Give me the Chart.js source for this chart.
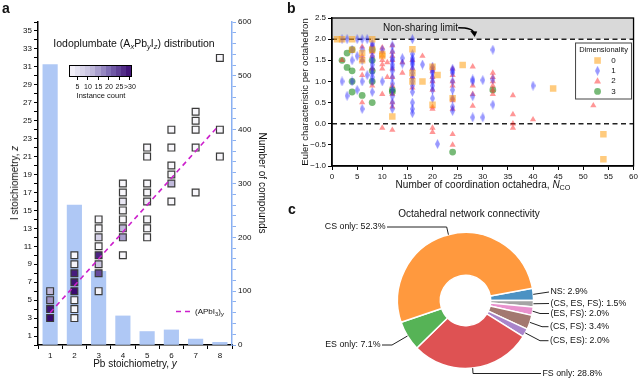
<!DOCTYPE html>
<html>
<head>
<meta charset="utf-8">
<script src="https://cdn.jsdelivr.net/npm/chart.js@4.4.1/dist/chart.umd.min.js"></script>
<style>
body { margin: 0; background: #fff; }
#page { position: relative; width: 640px; height: 379px; overflow: hidden; font-family: "Liberation Sans", Arial, sans-serif; color: #111; }
#page canvas { position: absolute; }
.txt { position: absolute; white-space: nowrap; transform: translate(-50%, -50%); font-size: 10px; line-height: 1; }
.lft { position: absolute; white-space: nowrap; transform: translateY(-50%); line-height: 1; }
.rotl { transform: translate(-50%, -50%) rotate(-90deg); }
.rotr { transform: translate(-50%, -50%) rotate(90deg); }
.panel { position: absolute; font-weight: bold; font-size: 14px; line-height: 1; }
sub { font-size: 72%; vertical-align: -0.3em; line-height: 0; }
#cbar { position: absolute; left: 69px; top: 65px; width: 63px; height: 12px; border: 1px solid #000; box-sizing: border-box; }
.cbtick { position: absolute; width: 1px; height: 3px; background: #000; top: 77px; }
</style>
</head>
<body>
<div id="page">
  <canvas id="chartA" width="290" height="379" style="left:0;top:0"></canvas>
  <canvas id="chartB" width="345" height="200" style="left:295px;top:0"></canvas>
  <canvas id="chartC" width="345" height="179" style="left:295px;top:200px"></canvas>

  <div class="panel" style="left:2px;top:1px">a</div>
  <div class="panel" style="left:287px;top:1px">b</div>
  <div class="panel" style="left:288px;top:202px">c</div>

  <div class="txt" style="left:134px;top:43px;font-size:10.5px">Iodoplumbate (A<sub><i>x</i></sub>Pb<sub><i>y</i></sub>I<sub><i>z</i></sub>) distribution</div>
  <div id="cbar"></div>
  <div id="cbarTicks"></div>
  <div class="txt" style="left:101px;top:96px;font-size:7.5px">Instance count</div>
  <div class="lft" style="left:195px;top:312px;font-size:8px">(APbI<sub>3</sub>)<sub><i>y</i></sub></div>
  <div class="txt rotl" style="left:15px;top:183px">I stoichiometry, <i>z</i></div>
  <div class="txt" style="left:135px;top:364px">Pb stoichiometry, <i>y</i></div>
  <div class="txt rotr" style="left:262px;top:183px">Number of compounds</div>

  <div class="txt rotl" style="left:305px;top:92px;font-size:9.5px">Euler characteristic per octahedron</div>
  <div class="txt" style="left:483px;top:185px">Number of coordination octahedra, <i>N</i><sub>CO</sub></div>
  <div class="lft" style="left:383px;top:28px;font-size:10px">Non-sharing limit</div>

  <div class="txt" style="left:469px;top:214px">Octahedral network connectivity</div>
</div>

<script>
// ---- panel a: iodoplumbate distribution ----
const pbTicks = [1, 2, 3, 4, 5, 6, 7, 8];
const compoundCounts = [521, 260, 137, 54, 25, 28, 11, 5];

// squares: Pb stoichiometry y, I stoichiometry z, instance count
const sqPb = [1, 1, 1, 1,
    2, 2, 2, 2, 2, 2, 2, 2,
    3, 3, 3, 3, 3, 3, 3, 3,
    4, 4, 4, 4, 4, 4, 4, 4,
    5, 5, 5, 5, 5, 5, 5, 5,
    6, 6, 6, 6, 6, 6,
    7, 7, 7, 7, 7,
    8, 8, 8];
const sqI = [3, 4, 5, 6,
    3, 4, 5, 6, 7, 8, 9, 10,
    6, 8, 9, 10, 11, 12, 13, 14,
    10, 12, 13, 14, 15, 16, 17, 18,
    12, 13, 14, 16, 17, 18, 21, 22,
    16, 18, 19, 20, 22, 24,
    17, 22, 24, 25, 26,
    21, 24, 32];
const sqCount = [32, 30, 16, 12,
    1, 1, 1, 31, 30, 29, 2, 1,
    2, 24, 10, 28, 1, 8, 1, 1,
    1, 15, 12, 1, 1, 4, 1, 1,
    1, 1, 1, 3, 1, 1, 1, 1,
    1, 12, 1, 1, 1, 1,
    1, 1, 1, 1, 1,
    1, 1, 1];
const apbiY = [1, 7.9];
const apbiZ = [3.6, 24.3];
const cbarTicks = [5, 10, 15, 20, 25, 30];
const cbarLabels = ['5', '10', '15', '20', '25', '>30'];

// ---- panel b: Euler characteristic ----
const dim0X = [1, 2, 4, 8, 4, 6, 6, 10, 10, 8, 12, 16, 16, 16, 18, 20, 20, 21, 24, 26, 44, 54, 54];
const dim0Y = [2.0, 2.0, 2.0, 2.0, 1.75, 1.67, 1.5, 1.6, 1.65, 1.75, 0.17, 1.76, 1.2, 1.0, 1.0, 0.45, 1.35, 1.15, 0.6, 1.39, 0.83, -0.25, -0.84];
const dim1X = [2, 3, 5, 6, 7, 16,
    2, 3, 4, 4, 4, 5, 5, 6, 6, 6, 6, 7,
    8, 8, 8, 8, 8, 8, 8, 8, 8, 8, 8,
    10, 10,
    12, 12, 12, 12, 12, 12, 12, 12, 12, 12, 12, 12, 12,
    14, 14,
    16, 16, 16, 16, 16, 16, 16, 16, 16, 16, 16, 16, 16, 16,
    18,
    20, 20, 20, 20, 20, 20, 20, 20,
    21,
    24, 24, 24, 24, 24, 24, 24, 24,
    28, 28, 28, 28,
    30, 30,
    32, 32, 32,
    40];
const dim1Y = [2.0, 2.0, 2.0, 2.0, 2.0, 2.0,
    1.0, 0.66, 1.5, 1.75, 1.0, 0.8, 1.6, 1.0, 0.35, 1.5, 1.75, 1.15,
    1.9, 1.85, 1.75, 1.6, 1.5, 1.4, 1.3, 1.2, 1.0, 0.75, 1.1,
    1.0, 1.75,
    1.85, 1.7, 1.55, 1.4, 1.25, 1.1, 0.95, 0.8, 0.65, 0.5, 0.35, 1.33, 1.5,
    1.55, 1.42,
    1.65, 1.5, 1.4, 1.3, 1.2, 1.1, 1.0, 0.9, 0.75, 0.5, 0.35, 0.25, 1.55, 1.45,
    1.4,
    1.35, 1.25, 1.1, 0.9, 0.8, 0.6, 1.0, 1.2,
    -0.48,
    1.3, 1.2, 1.0, 0.8, 0.6, 0.4, 0.3, 1.25,
    1.05, 0.65, 0.15, 1.0,
    1.03, 0.15,
    1.75, 1.05, 0.45,
    0.9];
const dim2X = [2, 6, 6, 6, 6, 6, 6,
    8, 8, 8, 8, 8,
    10, 10, 10, 10, 10, 10, 10, 10,
    11, 11,
    12, 12, 12, 12, 12, 12, 12, 12, 12, 12, 12,
    14, 14,
    16, 16, 16, 16,
    18,
    20, 20, 20, 20, 20, 20, 20, 20, 20, 20,
    24, 24, 24, 24, 24, 24, 24, 24, 24,
    28, 28, 28, 28,
    32, 32, 32, 32, 32, 32,
    36, 36, 36, 36,
    40, 52];
const dim2Y = [1.5, 1.82, 1.6, 1.5, 1.3, 0.5, 1.15,
    1.85, 1.6, 1.3, 0.9, 1.7,
    1.8, 1.7, 1.6, 1.5, 1.4, 1.3, 0.7, -0.1,
    1.45, 1.1,
    1.85, 1.7, 1.5, 1.3, 1.1, 0.9, 0.7, 0.5, 0.4, -0.15, 1.6,
    1.45, 1.2,
    1.5, 1.3, 1.1, 0.85,
    1.6,
    1.35, 1.3, 1.25, 1.1, 1.0, 0.8, 0.4, 0.35, -0.1, -0.2,
    1.3, 1.15, 1.0, 0.9, 0.6, 0.55, 0.35, -0.25, -0.5,
    1.35, 0.9, 0.7, 0.42,
    1.2, 1.0, 0.9, 0.8, 0.7, 1.1,
    0.67, 0.22, 0.0, -0.1,
    0.1, 0.43];
const dim3X = [2, 3, 3, 4, 4, 4, 4, 6, 8, 8, 8, 8, 8, 12, 12, 24, 32];
const dim3Y = [1.5, 1.67, 1.33, 1.25, 1.0, 0.75, 1.75, 0.67, 1.5, 1.25, 1.0, 0.5, 1.75, 0.8, 0.75, -0.67, 0.8];
const dimLabels = ['0', '1', '2', '3'];

// ---- panel c: connectivity ----
const pieLabels = ['NS', '(CS, ES, FS)', '(ES, FS)', '(CS, FS)', '(CS, ES)', 'FS only', 'ES only', 'CS only'];
const pieValues = [2.9, 1.5, 2.0, 3.4, 2.0, 28.8, 7.1, 52.3];
const pieColors = ['#4c92c3', '#a5a5a5', '#e992ce', '#a37870', '#a985ca', '#de5253', '#56b356', '#ff993e'];

Chart.defaults.font.family = '"Liberation Sans", Arial, sans-serif';
Chart.defaults.color = '#111';

const colorStops = [[0, [248, 247, 251]], [0.35, [196, 190, 222]], [0.65, [122, 104, 176]], [1, [58, 10, 112]]];
function instanceColor(count) {
    const t = Math.min(Math.max((count - 1) / 30, 0), 1);
    let i = 1;
    while (i < colorStops.length - 1 && t > colorStops[i][0]) i++;
    const [t0, c0] = colorStops[i - 1];
    const [t1, c1] = colorStops[i];
    const f = (t - t0) / (t1 - t0);
    const c = c0.map((v, k) => Math.round(v + (c1[k] - v) * f));
    return `rgb(${c.join(',')})`;
}

function buildColorbar() {
    const steps = 12;
    const parts = [];
    for (let s = 0; s < steps; s++) {
        const col = instanceColor(1 + (s + 0.5) * 30 / steps);
        parts.push(`${col} ${(s / steps * 100).toFixed(2)}%`, `${col} ${((s + 1) / steps * 100).toFixed(2)}%`);
    }
    document.getElementById('cbar').style.background = `linear-gradient(to right, ${parts.join(',')})`;
    const holder = document.getElementById('cbarTicks');
    cbarTicks.forEach((v, i) => {
        const px = 69 + (v - 1) / 30 * 63;
        const tick = document.createElement('div');
        tick.className = 'cbtick';
        tick.style.left = (px - 0.5) + 'px';
        holder.appendChild(tick);
        const lab = document.createElement('div');
        lab.className = 'txt';
        lab.style.cssText = `left:${px}px;top:86px;font-size:7px`;
        lab.textContent = cbarLabels[i];
        holder.appendChild(lab);
    });
}

function zip(xs, ys) {
    return xs.map((x, i) => ({ x: x, y: ys[i] }));
}

function axisStyle(color) {
    return {
        grid: { drawOnChartArea: false, tickLength: 4, tickColor: color, tickWidth: 1 },
        border: { color: color, width: 1.5 }
    };
}

// dashed sample for the (APbI3)y legend entry
const apbiLegend = {
    id: 'apbiLegend',
    afterDraw(chart) {
        const { ctx, chartArea: a } = chart;
        ctx.save();
        ctx.strokeStyle = '#cc1fcc';
        ctx.lineWidth = 1.6;
        ctx.setLineDash([5, 4]);
        ctx.beginPath();
        ctx.moveTo(a.right - 56, a.bottom - 33.5);
        ctx.lineTo(a.right - 41, a.bottom - 33.5);
        ctx.stroke();
        ctx.restore();
    }
};

function renderPanelA() {
    new Chart(document.getElementById('chartA'), {
        type: 'scatter',
        data: {
            datasets: [
                {
                    type: 'line', data: zip(apbiY, apbiZ), yAxisID: 'y', order: 1,
                    borderColor: '#cc1fcc', borderWidth: 1.6, borderDash: [5, 4], pointRadius: 0
                },
                {
                    type: 'scatter', data: zip(sqPb, sqI), yAxisID: 'y', order: 2,
                    pointStyle: 'rect', pointRadius: 4.8,
                    backgroundColor: sqCount.map(instanceColor), borderColor: '#3a3a3a', borderWidth: 1.2
                },
                {
                    type: 'bar', data: zip(pbTicks, compoundCounts), yAxisID: 'y2', order: 3,
                    backgroundColor: '#afc8f5', barThickness: 14.5
                }
            ]
        },
        options: {
            responsive: false, animation: false, events: [],
            layout: { padding: { top: 22 } },
            plugins: { legend: { display: false }, tooltip: { enabled: false } },
            scales: {
                x: {
                    type: 'linear', min: 0.5, max: 8.5, offset: false,
                    afterBuildTicks: s => { s.ticks = pbTicks.map(v => ({ value: v })); },
                    ticks: { font: { size: 8 }, padding: 2, maxRotation: 0, autoSkip: false },
                    afterFit: s => { s.height = 34; },
                    ...axisStyle('#000')
                },
                y: {
                    position: 'left', min: 0, max: 36,
                    ticks: { stepSize: 1, autoSkip: false, font: { size: 8 }, padding: 2, callback: v => v % 2 === 1 ? v : '' },
                    afterFit: s => { s.width = 38; },
                    ...axisStyle('#000')
                },
                y2: {
                    position: 'right', min: 0, max: 600,
                    ticks: { stepSize: 20, autoSkip: false, font: { size: 8 }, padding: 2, callback: v => v % 100 === 0 ? v : '' },
                    afterFit: s => { s.width = 58; },
                    ...axisStyle('#8ab0f2')
                }
            }
        },
        plugins: [apbiLegend]
    });
}

function diamondImage(color) {
    const c = document.createElement('canvas');
    c.width = 5;
    c.height = 10;
    const ctx = c.getContext('2d');
    ctx.fillStyle = color;
    ctx.beginPath();
    ctx.moveTo(2.5, 0);
    ctx.lineTo(5, 5);
    ctx.lineTo(2.5, 10);
    ctx.lineTo(0, 5);
    ctx.closePath();
    ctx.fill();
    return c;
}

const dimColors = ['rgba(255,160,20,0.55)', 'rgba(40,40,255,0.48)', 'rgba(255,35,35,0.48)', 'rgba(30,140,30,0.6)'];
const diamond = diamondImage(dimColors[1]);

function drawMarker(ctx, dim, x, y) {
    ctx.fillStyle = dimColors[dim];
    ctx.beginPath();
    if (dim === 0) {
        ctx.rect(x - 3.3, y - 3.3, 6.6, 6.6);
    } else if (dim === 1) {
        ctx.drawImage(diamond, x - 2.5, y - 5);
        return;
    } else if (dim === 2) {
        ctx.moveTo(x, y - 3.8);
        ctx.lineTo(x + 3.5, y + 2.4);
        ctx.lineTo(x - 3.5, y + 2.4);
        ctx.closePath();
    } else {
        ctx.arc(x, y, 3.4, 0, Math.PI * 2);
    }
    ctx.fill();
}

const arrowFrom = { x: 25.1, y: 2.27 };
const arrowTo = { x: 28.3, y: 2.05 };

const panelBDecor = {
    id: 'panelBDecor',
    beforeDatasetsDraw(chart) {
        const { ctx, chartArea: a, scales: { x, y } } = chart;
        ctx.save();
        const yTop = y.getPixelForValue(2.5);
        const yLim = y.getPixelForValue(2);
        ctx.fillStyle = '#d9d9d9';
        ctx.fillRect(a.left, yTop, a.right - a.left, yLim - yTop);
        ctx.setLineDash([5, 3.5]);
        ctx.strokeStyle = '#222';
        ctx.lineWidth = 1.5;
        for (const v of [2, 0]) {
            const py = y.getPixelForValue(v);
            ctx.beginPath();
            ctx.moveTo(a.left, py);
            ctx.lineTo(a.right, py);
            ctx.stroke();
        }
        ctx.restore();
    },
    afterDatasetsDraw(chart) {
        const { ctx, chartArea: a, scales: { x, y } } = chart;
        ctx.save();
        ctx.strokeStyle = '#000';
        ctx.lineWidth = 1.3;
        ctx.strokeRect(a.left, a.top, a.right - a.left, a.bottom - a.top);

        // arrow from the "Non-sharing limit" text down to the line
        const sx = x.getPixelForValue(arrowFrom.x), sy = y.getPixelForValue(arrowFrom.y);
        const ex = x.getPixelForValue(arrowTo.x), ey = y.getPixelForValue(arrowTo.y);
        ctx.lineWidth = 1.3;
        ctx.beginPath();
        ctx.moveTo(sx, sy);
        ctx.quadraticCurveTo(ex - 1, sy, ex - 0.5, ey - 4);
        ctx.stroke();
        ctx.fillStyle = '#000';
        ctx.beginPath();
        ctx.moveTo(ex + 0.5, ey);
        ctx.lineTo(ex - 4, ey - 6);
        ctx.lineTo(ex + 3, ey - 5.5);
        ctx.closePath();
        ctx.fill();

        // dimensionality legend
        const bx = a.right - 58, by = a.top + 25, bw = 56, bh = 56;
        ctx.fillStyle = '#fff';
        ctx.fillRect(bx, by, bw, bh);
        ctx.strokeStyle = '#444';
        ctx.lineWidth = 1;
        ctx.strokeRect(bx, by, bw, bh);
        ctx.fillStyle = '#111';
        ctx.font = '7.5px "Liberation Sans", Arial, sans-serif';
        ctx.textAlign = 'center';
        ctx.textBaseline = 'middle';
        ctx.fillText('Dimensionality', bx + bw / 2, by + 7);
        dimLabels.forEach((lab, i) => {
            const ry = by + 17.5 + i * 10.3;
            drawMarker(ctx, i, bx + 22, ry);
            ctx.fillStyle = '#111';
            ctx.font = '8px "Liberation Sans", Arial, sans-serif';
            ctx.fillText(lab, bx + 38, ry);
        });
        ctx.restore();
    }
};

function renderPanelB() {
    const common = { borderWidth: 0 };
    new Chart(document.getElementById('chartB'), {
        type: 'scatter',
        data: {
            datasets: [
                { ...common, data: zip(dim0X, dim0Y), pointStyle: 'rect', pointRadius: 4.6, backgroundColor: dimColors[0] },
                { ...common, data: zip(dim1X, dim1Y), pointStyle: diamond, backgroundColor: dimColors[1] },
                { ...common, data: zip(dim2X, dim2Y), pointStyle: 'triangle', pointRadius: 3.6, backgroundColor: dimColors[2] },
                { ...common, data: zip(dim3X, dim3Y), pointStyle: 'circle', pointRadius: 3.4, backgroundColor: dimColors[3] }
            ]
        },
        options: {
            responsive: false, animation: false, events: [],
            layout: { padding: { top: 18, right: 5 } },
            plugins: { legend: { display: false }, tooltip: { enabled: false } },
            scales: {
                x: {
                    min: 0, max: 60,
                    ticks: { stepSize: 5, font: { size: 8 }, padding: 2, maxRotation: 0 },
                    afterFit: s => { s.height = 34; },
                    ...axisStyle('#000')
                },
                y: {
                    min: -1, max: 2.5,
                    ticks: { stepSize: 0.5, font: { size: 8 }, padding: 2, callback: v => v.toFixed(1).replace('-', '\u2212') },
                    afterFit: s => { s.width = 37; },
                    ...axisStyle('#000')
                }
            }
        },
        plugins: [panelBDecor]
    });
}

// label lines: elbow / end offsets from the doughnut centre
const pieLabelLayout = [
    { elbow: null, end: [83.5, -8.5] },
    { elbow: null, end: [83.5, 3] },
    { elbow: [74.5, 13], end: [83.5, 13] },
    { elbow: [76.5, 26.2], end: [83, 26.2] },
    { elbow: [74.5, 40.2], end: [83, 40.2] },
    { elbow: [7.5, 73], end: [75.5, 73] },
    { elbow: [-73.5, 44.5], end: [-83.5, 44.5] },
    { elbow: [-18.8, -73.5], end: [-78.5, -73.5] }
];

const pieLabelsPlugin = {
    id: 'pieLabels',
    afterDraw(chart) {
        const { ctx } = chart;
        const meta = chart.getDatasetMeta(0);
        ctx.save();
        ctx.strokeStyle = '#222';
        ctx.lineWidth = 1;
        ctx.fillStyle = '#111';
        ctx.font = '8.8px "Liberation Sans", Arial, sans-serif';
        ctx.textBaseline = 'middle';
        meta.data.forEach((arc, i) => {
            const { x, y, startAngle, endAngle, outerRadius } = arc.getProps(['x', 'y', 'startAngle', 'endAngle', 'outerRadius'], true);
            const mid = (startAngle + endAngle) / 2;
            const ax = x + Math.cos(mid) * outerRadius;
            const ay = y + Math.sin(mid) * outerRadius;
            const lay = pieLabelLayout[i];
            ctx.beginPath();
            ctx.moveTo(ax, ay);
            if (lay.elbow) ctx.lineTo(x + lay.elbow[0], y + lay.elbow[1]);
            const tx = x + lay.end[0], ty = y + lay.end[1];
            ctx.lineTo(tx, ty);
            ctx.stroke();
            const left = lay.end[0] < 0;
            ctx.textAlign = left ? 'right' : 'left';
            ctx.fillText(`${pieLabels[i]}: ${pieValues[i].toFixed(1)}%`, tx + (left ? -1.5 : 1.5), ty);
        });
        ctx.restore();
    }
};

function renderPanelC() {
    new Chart(document.getElementById('chartC'), {
        type: 'doughnut',
        data: {
            labels: pieLabels,
            datasets: [{
                data: pieValues,
                backgroundColor: pieColors,
                borderColor: '#fff',
                borderWidth: 1.5
            }]
        },
        options: {
            responsive: false, animation: false, events: [],
            rotation: 79.6,
            radius: 68,
            cutout: '37%',
            layout: { padding: { left: 50, right: 54, top: 30, bottom: 8 } },
            plugins: { legend: { display: false }, tooltip: { enabled: false } }
        },
        plugins: [pieLabelsPlugin]
    });
}

document.addEventListener('DOMContentLoaded', function () {
    buildColorbar();
    renderPanelA();
    renderPanelB();
    renderPanelC();
});
</script>
</body>
</html>
